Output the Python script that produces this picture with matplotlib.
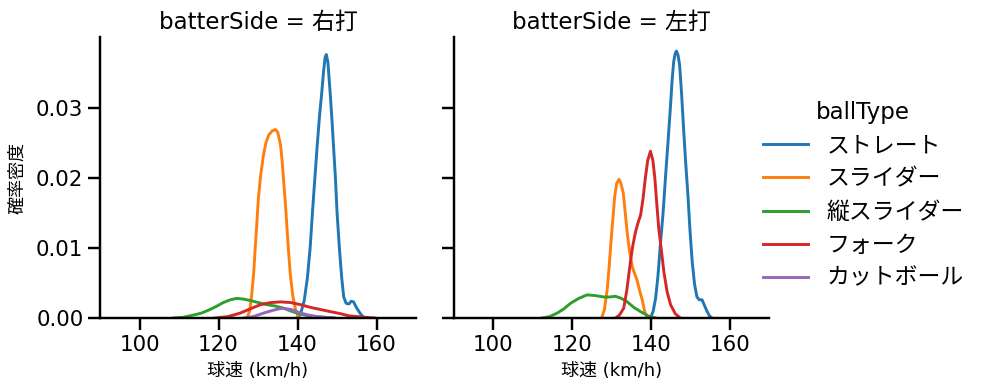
import matplotlib
matplotlib.use('Agg')
import matplotlib.pyplot as plt

plt.rcParams['font.family'] = ['DejaVu Sans', 'Noto Sans CJK JP']

######################## values (km/h, density) ####################
ball_types = ['ストレート', 'スライダー', '縦スライダー', 'フォーク', 'カットボール']
colors = ['#1f77b4', '#ff7f0e', '#2ca02c', '#d62728', '#9467bd']
sides = ['右打', '左打']

# right-handed batters
r_straight_x = [139.9, 140.8, 141.7, 142.5, 143.2, 143.8, 144.4, 145.0, 145.6, 146.1, 146.6, 147.0, 147.3,
                147.7, 148.3, 148.7, 149.1, 149.6, 150.0, 150.6, 151.2, 151.7, 152.3, 153.0, 153.6, 154.2,
                154.9, 155.7, 156.5, 157.4]
r_straight_y = [0.0, 0.0006, 0.0025, 0.0057, 0.0100, 0.0152, 0.0200, 0.0247, 0.0290, 0.0319, 0.0352, 0.0372,
                0.0376, 0.0365, 0.0319, 0.0285, 0.0247, 0.0200, 0.0152, 0.0100, 0.0057, 0.0030, 0.0021, 0.0020,
                0.0024, 0.0023, 0.0015, 0.0008, 0.0002, 0.0]
r_slider_x = [127.2, 127.9, 128.4, 128.9, 129.3, 129.7, 130.1, 130.7, 131.4, 132.0, 132.7, 133.6, 134.4, 135.0,
              135.7, 136.1, 136.5, 137.0, 137.4, 137.8, 138.2, 138.8, 139.5, 140.3]
r_slider_y = [0.0, 0.0010, 0.0033, 0.0064, 0.0100, 0.0135, 0.0171, 0.0205, 0.0233, 0.0250, 0.0261, 0.0267,
              0.0269, 0.0265, 0.0247, 0.0225, 0.0195, 0.0158, 0.0123, 0.0090, 0.0061, 0.0032, 0.0012, 0.0]
r_vslider_x = [108.6, 111.0, 113.5, 115.7, 117.8, 119.6, 121.2, 123.0, 124.6, 126.3, 128.0, 130.1, 132.3, 134.4,
               136.5, 138.3, 139.9, 142.0, 144.2, 146.7, 149.3]
r_vslider_y = [0.0, 0.0001, 0.0004, 0.0007, 0.0012, 0.0017, 0.0022, 0.0026, 0.0028, 0.0027, 0.0025, 0.0022,
               0.0019, 0.0017, 0.0014, 0.0010, 0.0007, 0.0004, 0.0002, 0.0001, 0.0]
r_fork_x = [119.1, 122.4, 125.5, 128.0, 130.6, 133.2, 135.7, 138.3, 140.8, 143.4, 145.9, 148.4, 151.0, 153.1,
            155.2, 157.3, 159.5]
r_fork_y = [0.0, 0.0002, 0.0007, 0.0013, 0.0019, 0.0022, 0.0023, 0.0022, 0.0019, 0.0015, 0.0012, 0.0009,
            0.0006, 0.0003, 0.0002, 0.0001, 0.0]
r_cut_x = [126.3, 128.8, 131.4, 133.8, 136.1, 138.5, 140.8, 143.0, 145.0, 149.3]
r_cut_y = [0.0, 0.0002, 0.0007, 0.0011, 0.0014, 0.0012, 0.0007, 0.0004, 0.0002, 0.0]

# left-handed batters
l_straight_x = [139.9, 140.6, 141.2, 141.8, 142.4, 143.1, 143.7, 144.4, 145.0, 145.4, 145.8, 146.2, 146.5,
                146.9, 147.3, 147.8, 148.3, 148.8, 149.4, 149.9, 150.5, 151.1, 151.7, 152.3, 153.0, 153.6,
                154.3, 154.9, 155.5]
l_straight_y = [0.0, 0.0010, 0.0028, 0.0060, 0.0104, 0.0150, 0.0200, 0.0255, 0.0304, 0.0340, 0.0366, 0.0378,
                0.0381, 0.0375, 0.0361, 0.0320, 0.0271, 0.0225, 0.0176, 0.0128, 0.0080, 0.0048, 0.0030,
                0.0026, 0.0026, 0.0018, 0.0009, 0.0003, 0.0]
l_slider_x = [127.5, 128.2, 128.9, 129.4, 129.9, 130.4, 130.8, 131.3, 131.9, 132.4, 133.0, 133.5, 134.0, 134.6,
              135.3, 135.9, 136.5, 137.1, 137.8, 138.4, 139.1]
l_slider_y = [0.0, 0.0012, 0.0040, 0.0073, 0.0111, 0.0145, 0.0173, 0.0192, 0.0198, 0.0192, 0.0178, 0.0150,
              0.0121, 0.0095, 0.0073, 0.0063, 0.0054, 0.0040, 0.0026, 0.0010, 0.0]
l_vslider_x = [112.4, 114.3, 116.2, 117.9, 119.6, 121.7, 123.8, 125.9, 128.0, 129.5, 131.0, 132.5, 134.0,
               135.7, 137.4, 139.3, 141.2]
l_vslider_y = [0.0, 0.0002, 0.0007, 0.0013, 0.0021, 0.0028, 0.0033, 0.0032, 0.0030, 0.0030, 0.0031, 0.0028,
               0.0023, 0.0015, 0.0009, 0.0003, 0.0]
l_fork_x = [131.0, 132.0, 133.1, 133.9, 134.8, 135.4, 136.1, 136.8, 137.4, 138.0, 138.6, 139.2, 139.9, 140.5,
            141.0, 141.5, 142.0, 142.7, 143.3, 144.1, 145.0, 146.2, 147.5]
l_fork_y = [0.0, 0.0004, 0.0014, 0.0040, 0.0080, 0.0103, 0.0123, 0.0137, 0.0147, 0.0170, 0.0200, 0.0225,
            0.0238, 0.0225, 0.0200, 0.0163, 0.0128, 0.0095, 0.0066, 0.0038, 0.0019, 0.0006, 0.0]

curves = {
    '右打': [(r_straight_x, r_straight_y), (r_slider_x, r_slider_y), (r_vslider_x, r_vslider_y),
             (r_fork_x, r_fork_y), (r_cut_x, r_cut_y)],
    '左打': [(l_straight_x, l_straight_y), (l_slider_x, l_slider_y), (l_vslider_x, l_vslider_y),
             (l_fork_x, l_fork_y), None],
}

###### two facets side by side
fig = plt.figure(figsize=(9.85, 3.91), dpi=100)
ax1 = fig.add_axes([100 / 985, 73 / 391, 316 / 985, 281 / 391])
ax2 = fig.add_axes([454 / 985, 73 / 391, 315 / 985, 281 / 391], sharey=ax1)

for ax, side in zip([ax1, ax2], sides):
    for i, c in enumerate(curves[side]):
        if c is None:
            continue
        ax.plot(c[0], c[1], color=colors[i], lw=2.1)
    ax.set_xlim(90, 170)
    ax.set_ylim(0, 0.0401)
    ax.set_xticks([100, 120, 140, 160])
    ax.set_yticks([0.0, 0.01, 0.02, 0.03])
    ax.yaxis.set_major_formatter(matplotlib.ticker.FormatStrFormatter('%.2f'))
    for s in ['top', 'right']:
        ax.spines[s].set_visible(False)
    for s in ['left', 'bottom']:
        ax.spines[s].set_linewidth(1.75)
    ax.tick_params(width=1.75, length=8.4, labelsize=15.4)
    ax.set_title('batterSide = ' + side, fontsize=16.5)
    ax.set_xlabel('球速 (km/h)', fontsize=13)
    ax.xaxis.set_label_coords(0.5, -0.155)

ax1.set_ylabel('確率密度', fontsize=13)
ax1.yaxis.set_label_coords(-0.235, 0.5)
ax2.tick_params(labelleft=False)

handles = [matplotlib.lines.Line2D([], [], color=colors[i], lw=2.1) for i in range(len(ball_types))]
fig.legend(handles, ball_types, title='ballType', loc='center left', bbox_to_anchor=(742 / 985, 0.5),
           frameon=False, fontsize=16.5, title_fontsize=16.5, handlelength=2.0, labelspacing=0.44)

plt.savefig('out.png', dpi=100)
plt.close(fig)
